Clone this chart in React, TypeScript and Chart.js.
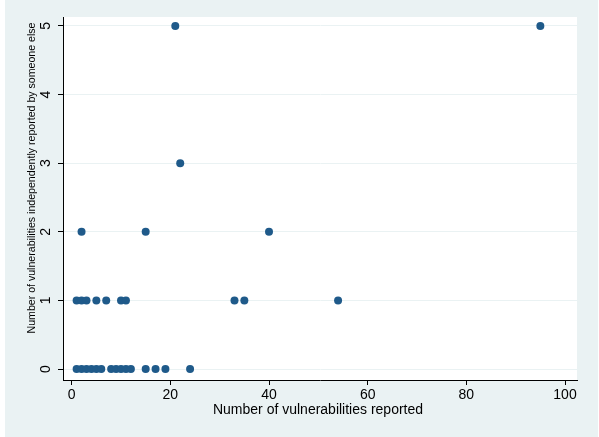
import React, { useEffect, useRef } from "react";
import { Chart, registerables } from "chart.js";

Chart.register(...registerables);

// Number of vulnerabilities reported, grouped by how many were independently reported by someone else
const reportedWith0 = [1, 2, 3, 4, 5, 6, 8, 9, 10, 11, 12, 15, 17, 19, 24];
const reportedWith1 = [1, 2, 3, 5, 7, 10, 11, 33, 35, 54];
const reportedWith2 = [2, 15, 40];
const reportedWith3 = [22];
const reportedWith5 = [21, 95];

const xTicks = [0, 20, 40, 60, 80, 100];
const yTicks = [0, 1, 2, 3, 4, 5];

const xTitle = "Number of vulnerabilities reported";
const yTitle = "Number of vulnerabilities independently reported by someone else";

const FONT = "'Liberation Sans', Arial, Helvetica, sans-serif";
const BG = "#EAF2F3";
const MARKER = "#1F5A8A";

export default function App() {
  const ref = useRef<HTMLCanvasElement | null>(null);

  useEffect(() => {
    document.body.style.margin = "0";
    const canvas = ref.current;
    if (!canvas) return;

    const groups: [number, number[]][] = [
      [0, reportedWith0],
      [1, reportedWith1],
      [2, reportedWith2],
      [3, reportedWith3],
      [5, reportedWith5],
    ];
    const points: { x: number; y: number }[] = [];
    groups.forEach(([y, xs]) => xs.forEach((x) => points.push({ x, y })));

    const decor = {
      id: "stataDecor",
      beforeDraw(chart: any) {
        const { ctx, chartArea } = chart;
        ctx.save();
        ctx.fillStyle = "#ffffff";
        ctx.fillRect(0, 0, chart.width, chart.height);
        ctx.fillStyle = BG;
        ctx.fillRect(5, 0, chart.width - 6, chart.height);
        ctx.fillStyle = "#ffffff";
        ctx.fillRect(chartArea.left, chartArea.top, chartArea.right - chartArea.left, chartArea.bottom - chartArea.top);
        ctx.restore();
      },
      afterDraw(chart: any) {
        const { ctx, chartArea } = chart;
        const xs = chart.scales.x;
        const ys = chart.scales.y;
        ctx.save();
        ctx.fillStyle = "#000000";
        // x tick labels
        ctx.font = `14px ${FONT}`;
        ctx.textAlign = "center";
        ctx.textBaseline = "alphabetic";
        xTicks.forEach((v) => {
          ctx.fillText(String(v), xs.getPixelForValue(v), 399);
        });
        // x title
        ctx.fillText(xTitle, (chartArea.left + chartArea.right) / 2 - 2, 414);
        // y tick labels (rotated)
        yTicks.forEach((v) => {
          ctx.save();
          ctx.translate(50, ys.getPixelForValue(v));
          ctx.rotate(-Math.PI / 2);
          ctx.textAlign = "center";
          ctx.textBaseline = "alphabetic";
          ctx.fillText(String(v), 0, 0);
          ctx.restore();
        });
        // y title
        ctx.save();
        ctx.font = `10.6px ${FONT}`;
        ctx.translate(35, 178);
        ctx.rotate(-Math.PI / 2);
        ctx.textAlign = "center";
        ctx.textBaseline = "alphabetic";
        ctx.fillText(yTitle, 0, 0);
        ctx.restore();
        ctx.restore();
      },
    };

    const chart = new Chart(canvas, {
      type: "scatter",
      data: {
        datasets: [
          {
            data: points,
            backgroundColor: MARKER,
            borderColor: MARKER,
            borderWidth: 0,
            pointRadius: 4,
            pointHoverRadius: 4,
          },
        ],
      },
      options: {
        responsive: false,
        animation: false,
        events: [],
        layout: { padding: { top: 17, right: 22, left: 0, bottom: 0 } },
        plugins: { legend: { display: false }, tooltip: { enabled: false } },
        scales: {
          x: {
            type: "linear",
            min: -1.76,
            max: 102.43,
            afterBuildTicks: (scale: any) => {
              scale.ticks = xTicks.map((v) => ({ value: v }));
            },
            afterFit: (scale: any) => {
              scale.height = 57;
            },
            grid: {
              drawOnChartArea: false,
              drawTicks: true,
              tickLength: 5,
              tickColor: "#000000",
              tickWidth: 1,
            },
            border: { display: true, color: "#000000", width: 1 },
            ticks: { display: false },
          },
          y: {
            type: "linear",
            min: -0.16,
            max: 5.13,
            afterBuildTicks: (scale: any) => {
              scale.ticks = yTicks.map((v) => ({ value: v }));
            },
            afterFit: (scale: any) => {
              scale.width = 63;
            },
            grid: {
              color: BG,
              lineWidth: 1,
              drawTicks: true,
              tickLength: 5,
              tickColor: "#000000",
              tickWidth: 1,
            },
            border: { display: true, color: "#000000", width: 1 },
            ticks: { display: false },
          },
        },
      },
      plugins: [decor],
    });

    return () => chart.destroy();
  }, []);

  return (
    <div style={{ width: 599, height: 437 }}>
      <canvas ref={ref} width={599} height={437} style={{ display: "block" }} />
    </div>
  );
}
